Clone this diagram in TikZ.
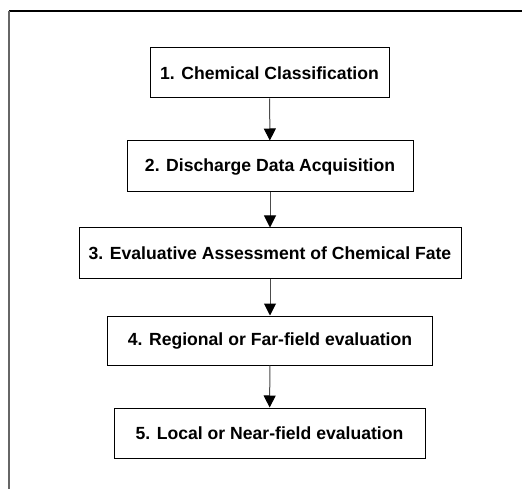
\documentclass[tikz,border=0pt]{standalone}
\usepackage{fontspec}
\setmainfont{Liberation Sans}
\usetikzlibrary{arrows.meta}
\begin{document}
\begin{tikzpicture}[x=1pt,y=-1pt,
  stepbox/.style={draw=black,line width=1pt,fill=white,inner sep=0pt,
    minimum height=50pt,font=\fontsize{17.6}{20}\selectfont\bfseries},
  flow/.style={draw=black!70,line width=1pt,
    -{Triangle[width=12pt,length=12pt,fill=black,color=black]}}]
  \useasboundingbox (0,0) rectangle (522,489);
  \fill[white] (0,0) rectangle (522,489);
  % open frame: top and left edges only
  \draw[line width=1.4pt,black] (9,11) -- (522,11);
  \draw[line width=1.4pt,black!60] (9,11) -- (9,489);
  % process steps
  \node[stepbox,minimum width=239pt] (s1) at (269.5,73) {1. Chemical Classification};
  \node[stepbox,minimum width=286pt,minimum height=51pt] (s2) at (270,166.5) {2. Discharge Data Acquisition};
  \node[stepbox,minimum width=382pt] (s3) at (270,253) {3. Evaluative Assessment of Chemical Fate};
  \node[stepbox,minimum width=325pt,minimum height=49pt] (s4) at (270,340.5) {4. Regional or Far-field evaluation};
  \node[stepbox,minimum width=311pt] (s5) at (269.5,433) {5. Local or Near-field evaluation};
  % connectors
  \draw[flow] (s1) -- (s2);
  \draw[flow] (s2) -- (s3);
  \draw[flow] (s3) -- (s4);
  \draw[flow] (s4) -- (s5);
\end{tikzpicture}
\end{document}
